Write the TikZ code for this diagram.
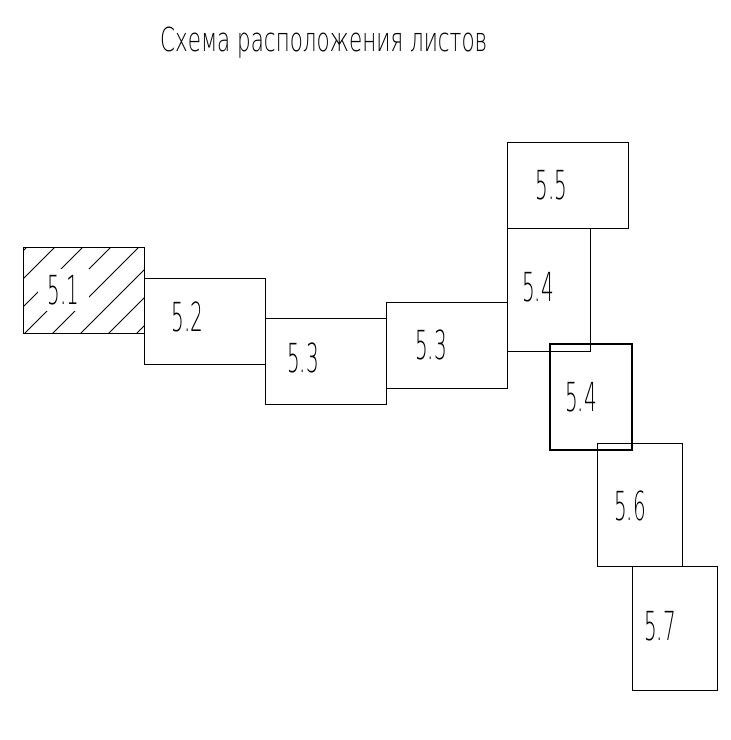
\documentclass[tikz,border=0pt]{standalone}
\usepackage{fontspec}
\IfFontExistsTF{DejaVu Sans ExtraLight}
  {\newfontfamily\gostfont[FakeStretch=0.5]{DejaVu Sans ExtraLight}
   \newfontfamily\gostwide[FakeStretch=0.65]{DejaVu Sans ExtraLight}}
  {\newfontfamily\gostfont[FakeStretch=0.5]{DejaVu Sans}
   \newfontfamily\gostwide[FakeStretch=0.65]{DejaVu Sans}}
\usetikzlibrary{positioning}

\begin{document}
\begin{tikzpicture}[x=1pt,y=-1pt,
  sheet/.style={draw=black,line width=.8pt,inner sep=0pt,outer sep=0pt},
  land/.style={sheet,minimum width=121pt,minimum height=86pt},
  port/.style={sheet,minimum width=84pt,minimum height=123pt},
  num/.style={font=\gostfont\fontsize{40}{40}\selectfont,inner sep=1pt},
  ttl/.style={font=\gostwide\fontsize{33}{33}\selectfont,inner sep=0pt},
  hatched/.style={path picture={
    \foreach \k in {0,...,7}
      \draw[line width=.8pt] ([xshift={4+\k*28}]path picture bounding box.north west) -- ++(-110,110);}}]
\useasboundingbox (0,0) rectangle (731,740);

\node[ttl,anchor=base west] (title) at (160,51) {Схема расположения листов};

% sheets left to right
\node[land,hatched] (s51) at (83.5,290) {};
\node[num,fill=white,inner xsep=10pt,inner ysep=6pt,xshift=-20pt] (t51) at (s51.center) {5.1};
\node[land,right=0pt of s51,yshift=-31.5pt,label={[num,xshift=-17pt,yshift=4.5pt]center:5.2}] (s52) {};
\node[land,right=0pt of s52,yshift=-39.5pt,label={[num,xshift=-22.5pt,yshift=3pt]center:5.3}] (s53a) {};
\node[land,right=0pt of s53a,yshift=16pt,label={[num,xshift=-15.5pt]center:5.3}] (s53b) {};

% sheets going down
\node[land,right=0pt of s53b,yshift=159.5pt,label={[num,xshift=-16pt]center:5.5}] (s55) {};
\node[port,minimum width=83pt,anchor=north west,label={[num,xshift=-10.5pt,yshift=3pt]center:5.4}] (s54a) at (s55.south west) {};
\node[port,line width=1.6pt,minimum width=82pt,minimum height=106pt,label={[num,xshift=-10pt]center:5.4}] (s54b) at (591,397) {};
\node[port,minimum width=85pt,label={[num,xshift=-9.5pt,yshift=-1.5pt]center:5.6}] (s56) at (639.5,504.5) {};
\node[port,minimum width=85pt,minimum height=124pt,label={[num,xshift=-14.5pt,yshift=2pt]center:5.7}] (s57) at (674.5,628) {};
\end{tikzpicture}
\end{document}
